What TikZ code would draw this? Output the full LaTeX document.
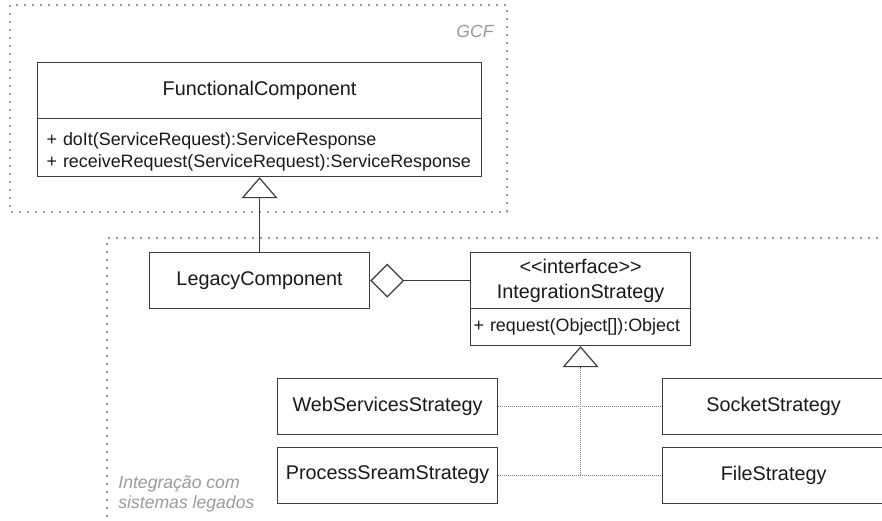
\documentclass[tikz,border=0pt]{standalone}
\usepackage{fontspec}
\setmainfont{Liberation Sans}[Ligatures=TeXOff]
\usetikzlibrary{arrows.meta, positioning}
\definecolor{umlLine}{HTML}{3C3C3C}
\definecolor{zoneGray}{HTML}{9A9A9A}
\tikzset{
  classbox/.style={draw=umlLine, line width=0.6pt, minimum width=110pt, minimum height=28pt,
    inner sep=0pt, font=\fontsize{9.9}{11}\selectfont, text=black!90},
  opsbox/.style={classbox, align=left, inner xsep=5pt, anchor=north west,
    font=\fontsize{8.95}{11}\selectfont,
    execute at begin node={\hyphenpenalty=10000\exhyphenpenalty=10000}},
  zone/.style={draw=zoneGray, line width=0.9pt, dash pattern=on 0.9pt off 3.1pt},
  zonelabel/.style={font=\fontsize{8.8}{10}\selectfont\itshape, text=zoneGray, inner sep=0pt},
  inherit/.style={draw=umlLine, line width=0.6pt, -{Triangle[open, length=10.5pt, width=18pt]}},
  realize/.style={draw=gray, line width=0.4pt, dash pattern=on 0.5pt off 0.5pt},
}
\begin{document}
\begin{tikzpicture}[x=0.5pt, y=-0.5pt]
  % page frame, 1 unit = 1 px of the original
  \useasboundingbox (0,0) rectangle (882,520);
  % dotted zones
  \draw[zone] (10,5) rectangle (507,212);
  \draw[zone] (107,525) -- (107,238) -- (890,238);
  \node[zonelabel, anchor=base east] (gcflabel) at (494,37) {GCF};
  \node[zonelabel, anchor=north west, align=left] (legacylabel) at (118,475) {Integração com\\sistemas legados};
  % GCF class
  \node[classbox, anchor=north west, minimum width=222pt] (fcname) at (37,62) {FunctionalComponent};
  \node[opsbox, text width=213pt, inner xsep=4.5pt, minimum height=29pt] (fcops) at (37,118)
    {\rule{0pt}{11pt}+~doIt(ServiceRequest):ServiceResponse\\+~receiveRequest(ServiceRequest):ServiceResponse};
  % legacy side
  \node[classbox, anchor=north west] (legacy) at (149,252) {LegacyComponent};
  \node[classbox, anchor=north west, align=center, font=\fontsize{9.9}{12.5}\selectfont] (ifname) at (470,252)
    {<<interface>>\\IntegrationStrategy};
  \node[opsbox, inner xsep=1.5pt, text width=107pt, minimum height=18.5pt] (ifops) at (470,308)
    {+~request(Object[]):Object};
  % strategies
  \node[classbox, anchor=north west] (websvc) at (277,378) {WebServicesStrategy};
  \node[classbox, anchor=north west] (procstream) at (277,446.5) {ProcessSreamStrategy};
  \node[classbox, anchor=north west, minimum width=111pt] (socket) at (662,378) {SocketStrategy};
  \node[classbox, anchor=north west, minimum width=111pt] (filestr) at (662,446.5) {FileStrategy};
  % connectors
  \draw[inherit] (legacy) -- (fcops);
  \draw[draw=umlLine, line width=0.6pt, {Diamond[open, length=17pt, width=17pt]}-] (legacy) -- (ifname);
  \draw[realize] (websvc) -- (socket);
  \draw[realize] (procstream) -- (filestr);
  \coordinate (join) at (ifops.south |- procstream.east);
  \draw[realize] (join) -- ([yshift=-10.5pt]ifops.south);
  \draw[inherit] ([yshift=-10.5pt]ifops.south) -- (ifops.south);
\end{tikzpicture}
\end{document}
